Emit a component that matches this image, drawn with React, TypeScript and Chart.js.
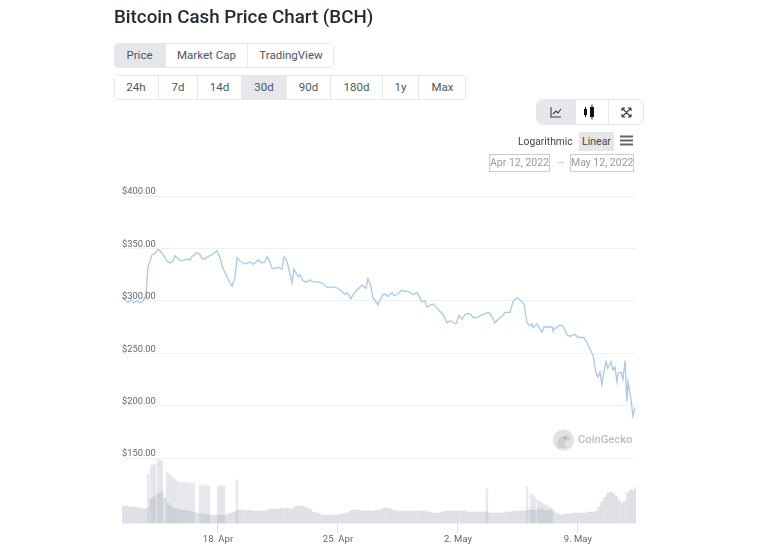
import React, { useEffect, useRef } from "react";
import { Chart, registerables } from "chart.js";

Chart.register(...registerables);

// All x values are days relative to 18 Apr 2022.
const priceDays = [
  -5.6, -5.43, -5.25, -5.08, -4.9, -4.73, -4.55, -4.38, -4.2, -4.14, -4.08, -3.97, -3.85, -3.68, -3.5, -3.33, -3.15, -2.98, -2.8, -2.63,
  -2.51, -2.33, -2.1, -1.81, -1.63, -1.52, -1.23, -1.05, -0.93, -0.76, -0.58, -0.35, -0.06, 0.12, 0.29, 0.53, 0.7, 0.82, 0.99, 1.11,
  1.28, 1.4, 1.58, 1.87, 2.04, 2.16, 2.33, 2.57, 2.74, 2.86, 3.03, 3.15, 3.33, 3.5, 3.73, 3.85, 3.97, 4.08, 4.32, 4.43,
  4.67, 4.78, 4.96, 5.19, 5.37, 5.54, 5.83, 6.07, 6.36, 6.71, 7.0, 7.23, 7.41, 7.53, 7.76, 7.93, 8.11, 8.4, 8.63, 8.75,
  8.87, 9.04, 9.22, 9.33, 9.45, 9.63, 9.8, 9.92, 10.15, 10.27, 10.44, 10.74, 10.91, 11.09, 11.38, 11.61, 11.9, 12.08, 12.19, 12.54,
  12.78, 12.95, 13.13, 13.36, 13.54, 13.65, 13.89, 14.06, 14.24, 14.41, 14.59, 14.76, 14.88, 15.11, 15.46, 15.81, 15.99, 16.16, 16.45, 16.63,
  16.74, 17.04, 17.21, 17.45, 17.62, 17.85, 18.03, 18.2, 18.32, 18.38, 18.61, 18.79, 18.9, 19.02, 19.49, 19.54, 19.95, 20.13, 20.36, 20.54,
  20.83, 21.0, 21.35, 21.53, 21.7, 21.88, 22.05, 22.17, 22.29, 22.4, 22.46, 22.64, 22.75, 22.93, 23.05, 23.16, 23.28, 23.34, 23.51, 23.63,
  23.75, 23.86, 23.92, 24.1, 24.21, 24.33,
];
const priceValues = [
  303, 301, 298, 301, 298, 300, 298, 300, 305, 320, 333, 337, 344, 345, 349, 347, 343, 338, 336, 338,
  343, 340, 338, 340, 339, 342, 346, 344, 340, 340, 342, 344, 348, 341, 331, 323, 317, 314, 322, 341,
  338, 337, 335, 337, 335, 336, 339, 336, 337, 342, 337, 331, 331, 332, 330, 342, 340, 334, 317, 330,
  323, 325, 319, 318, 320, 318, 318, 317, 313, 313, 312, 309, 306, 308, 302, 307, 310, 315, 312, 321,
  317, 303, 299, 296, 301, 306, 306, 304, 308, 305, 306, 310, 309, 309, 306, 308, 299, 300, 294, 297,
  293, 290, 287, 279, 281, 280, 278, 286, 282, 287, 288, 287, 284, 284, 287, 289, 285, 279, 284, 286,
  289, 289, 299, 303, 301, 297, 279, 276, 278, 274, 278, 273, 270, 275, 275, 272, 277, 276, 268, 266,
  268, 265, 265, 260, 254, 248, 232, 227, 232, 220, 227, 242, 236, 242, 234, 237, 223, 231, 232, 225,
  243, 204, 223, 206, 190, 198,
];

const volumeStartDay = -5.6;
const volumeStepDays = 1 / 6;
const volumeBase = [
  17, 17, 17, 16, 16, 16, 15, 15, 14, 15, 24, 26, 28, 30, 31, 25, 20, 17, 15, 14,
  14, 13, 13, 12, 12, 11, 10, 10, 9, 9, 8, 8, 8, 8, 8, 8, 8, 9, 10, 11,
  12, 13, 13, 13, 12, 13, 12, 12, 12, 12, 12, 13, 14, 14, 14, 14, 15, 14, 15, 14,
  15, 17, 17, 17, 16, 15, 13, 11, 10, 10, 8, 8, 8, 8, 8, 8, 8, 9, 10, 10,
  12, 13, 13, 13, 12, 12, 12, 12, 12, 13, 13, 14, 15, 15, 14, 13, 12, 12, 12, 12,
  12, 12, 12, 12, 12, 12, 12, 11, 11, 10, 10, 10, 11, 12, 12, 12, 12, 12, 12, 12,
  12, 11, 11, 11, 11, 11, 11, 11, 11, 10, 10, 10, 10, 10, 11, 11, 11, 12, 12, 12,
  12, 12, 13, 13, 13, 13, 14, 14, 13, 13, 13, 12, 10, 9, 8, 9, 9, 9, 10, 10,
  10, 10, 10, 11, 11, 11, 12, 16, 21, 26, 30, 31, 30, 27, 23, 20, 22, 30, 33, 33,
  36,
];
const spikeDays = [
  -4.08, -3.91, -3.79, -3.68, -3.5, -3.38, -3.27, -2.98, -2.86, -2.74, -2.63, -2.51, -2.39, -2.25, -2.11, -1.97, -1.84, -1.7, -1.56, -1.42,
  -1.05, -0.92, -0.78, -0.64, -0.53, 0, 0.12, 0.23, 0.35, 1.11, 15.69, 18.03, 18.26, 18.38, 18.49, 18.67, 18.79, 18.9, 19.02, 19.14,
  19.25, 19.37, 19.49,
];
const spikeValues = [
  49, 58, 58, 59, 63, 63, 62, 51, 49, 47, 45, 44, 42, 41, 41, 40, 41, 40, 40, 40,
  38, 38, 38, 37, 37, 37, 37, 37, 37, 43, 34, 36, 29, 28, 26, 23, 21, 20, 19, 18,
  17, 16, 15,
];

const priceTicks = [150, 200, 250, 300, 350, 400];
const dateTickDays = [0, 7, 14, 21];
const dateTickLabels = ["18. Apr", "25. Apr", "2. May", "9. May"];

const rangeTabs: [string, number, number][] = [
  ["24h", 114, 158], ["7d", 158, 197], ["14d", 197, 241], ["30d", 241, 286],
  ["90d", 286, 330], ["180d", 330, 382], ["1y", 382, 418], ["Max", 418, 466],
];
const viewTabs: [string, number, number][] = [
  ["Price", 114, 165], ["Market Cap", 165, 247], ["TradingView", 247, 334],
];

const FONT = "Roboto, sans-serif";

function Tabs({ tabs, top, active }: { tabs: [string, number, number][]; top: number; active: string }) {
  const left = tabs[0][1];
  const right = tabs[tabs.length - 1][2];
  return (
    <div style={{ position: "absolute", left, top, width: right - left, height: 25, boxSizing: "border-box", border: "1px solid #e5e7eb", borderRadius: 4, overflow: "hidden", background: "#fff" }}>
      {tabs.map(([t, a, b], i) => (
        <div key={t} style={{ position: "absolute", left: a - left - 1, top: 0, width: b - a, height: 23, boxSizing: "border-box", lineHeight: "23px", textAlign: "center", fontSize: 11.5, color: "#4b5563", background: t === active ? "#e5e7eb" : "#fff", borderLeft: i ? "1px solid #e5e7eb" : "none", fontFamily: FONT }}>{t}</div>
      ))}
    </div>
  );
}

export default function App() {
  const ref = useRef<HTMLCanvasElement>(null);
  useEffect(() => {
    const chart = new Chart(ref.current!, {
      data: {
        datasets: [
          {
            type: "line",
            data: priceDays.map((x, i) => ({ x, y: priceValues[i] })),
            borderColor: "#a9c9ea",
            borderWidth: 1.3,
            pointRadius: 0,
            tension: 0,
            yAxisID: "y",
            order: 0,
          },
          {
            type: "bar",
            data: volumeBase.map((y, i) => ({ x: volumeStartDay + i * volumeStepDays, y })),
            backgroundColor: "rgba(165,170,185,0.34)",
            barThickness: 2.4,
            grouped: false,
            yAxisID: "vol",
            order: 1,
          },
          {
            type: "bar",
            data: spikeDays.map((x, i) => ({ x, y: spikeValues[i] })),
            backgroundColor: "rgba(175,180,195,0.28)",
            barThickness: 1.9,
            grouped: false,
            yAxisID: "vol",
            order: 2,
          },
        ],
      } as any,
      options: {
        responsive: false,
        animation: false,
        devicePixelRatio: 1,
        layout: { padding: { left: 122, right: 134, top: 196, bottom: 0 } },
        plugins: { legend: { display: false }, tooltip: { enabled: false } },
        scales: {
          x: {
            type: "linear",
            offset: false,
            min: -5.6,
            max: 24.39,
            afterFit: (s: any) => { s.height = 32; },
            afterBuildTicks: (s: any) => { s.ticks = dateTickDays.map((value) => ({ value })); },
            border: { color: "#eceef1" },
            grid: { offset: false, drawOnChartArea: false, tickLength: 10, tickColor: "#dcdfe3" },
            ticks: {
              autoSkip: false,
              maxRotation: 0,
              padding: 1,
              color: "#666",
              font: { family: FONT, size: 9.5 },
              callback: (v: any) => dateTickLabels[dateTickDays.indexOf(v)] ?? "",
            },
          },
          y: {
            type: "linear",
            min: 88,
            max: 400,
            afterBuildTicks: (s: any) => { s.ticks = priceTicks.map((value) => ({ value })); },
            border: { display: false },
            grid: { color: "#f1f1f1", drawTicks: false },
            ticks: {
              mirror: true,
              padding: 0,
              labelOffset: -4,
              z: 2,
              color: "#666",
              font: { family: FONT, size: 9.3 },
              callback: (v: any) => "$" + Number(v).toFixed(2),
            },
          },
          vol: { type: "linear", display: false, min: 0, max: 327 },
        },
      } as any,
    });
    return () => chart.destroy();
  }, []);

  const abs = (o: React.CSSProperties): React.CSSProperties => ({ position: "absolute", fontFamily: FONT, ...o });
  const dateBox = (left: number, width: number, text: string) => (
    <div style={abs({ left, top: 154, width, height: 18, boxSizing: "border-box", border: "1px solid #ccc", color: "#999", fontSize: 10.5, lineHeight: "16px", textAlign: "center", whiteSpace: "nowrap" })}>{text}</div>
  );

  return (
    <div style={{ position: "fixed", left: 0, top: 0, width: 770, height: 555, overflow: "hidden", background: "#fff" }}>
      <canvas ref={ref} width={770} height={555} style={{ position: "absolute", left: 0, top: 0, width: 770, height: 555 }} />
      <div style={abs({ left: 114, top: 4, fontSize: 18.75, fontWeight: 500, color: "#1f2937", lineHeight: "26px", whiteSpace: "nowrap" })}>Bitcoin Cash Price Chart (BCH)</div>
      <Tabs tabs={viewTabs} top={43} active="Price" />
      <Tabs tabs={rangeTabs} top={75} active="30d" />

      <div style={abs({ left: 536, top: 99, width: 108, height: 26, boxSizing: "border-box", border: "1px solid #e5e7eb", borderRadius: 6, overflow: "hidden" })}>
        <div style={abs({ left: 0, top: 0, width: 38, height: 24, background: "#e5e7eb" })} />
        <div style={abs({ left: 38, top: 0, width: 1, height: 24, background: "#e5e7eb" })} />
        <div style={abs({ left: 71, top: 0, width: 1, height: 24, background: "#e5e7eb" })} />
        <svg width="106" height="24" style={{ position: "absolute", left: 0, top: 0 }}>
          <path d="M14 7v10h10M16 14l3-3 2 2 3-4" fill="none" stroke="#374151" strokeWidth="1.1" />
          <rect x="47" y="9" width="3" height="6" fill="#111" /><rect x="53" y="7" width="4" height="10" fill="#111" />
          <path d="M48.5 7v10M55 4.500v15" stroke="#111" strokeWidth="1" />
          <path d="M85 8l9 9M94 8l-9 9M85 8h3M85 8v3M94 8h-3M94 8v3M85 17h3M85 17v-3M94 17h-3M94 17v-3" stroke="#374151" strokeWidth="1.1" fill="none" />
        </svg>
      </div>

      <div style={abs({ left: 518, top: 134, fontSize: 10.3, color: "#444", lineHeight: "16px" })}>Logarithmic</div>
      <div style={abs({ left: 579, top: 132, width: 35, height: 19, background: "#e6e6e6", fontSize: 10.5, color: "#444", lineHeight: "19px", textAlign: "center" })}>Linear</div>
      <svg width="16" height="14" style={{ position: "absolute", left: 619, top: 134 }}>
        <path d="M1 2.500h13M1 6.500h13M1 10.500h13" stroke="#666" strokeWidth="2" />
      </svg>
      {dateBox(489, 61, "Apr 12, 2022")}
      <div style={abs({ left: 556, top: 156, fontSize: 9, color: "#aaa" })}>→</div>
      {dateBox(570, 64, "May 12, 2022")}

      <svg width="24" height="24" style={{ position: "absolute", left: 552, top: 428 }}>
        <circle cx="11.500" cy="12" r="10.500" fill="#e2e2e2" stroke="#ececec" strokeWidth="1" />
        <path d="M6 20c-1-6 0-11 5-12 4-1 7 0 8 2-1 2-4 3-6 3-1 2 0 5 1 7z" fill="#cfcfcf" />
        <circle cx="13" cy="10" r="1" fill="#999" />
      </svg>
      <div style={abs({ left: 578, top: 432, fontSize: 11.2, fontWeight: 500, color: "#bdbdbd", lineHeight: "16px" })}>CoinGecko</div>
    </div>
  );
}
